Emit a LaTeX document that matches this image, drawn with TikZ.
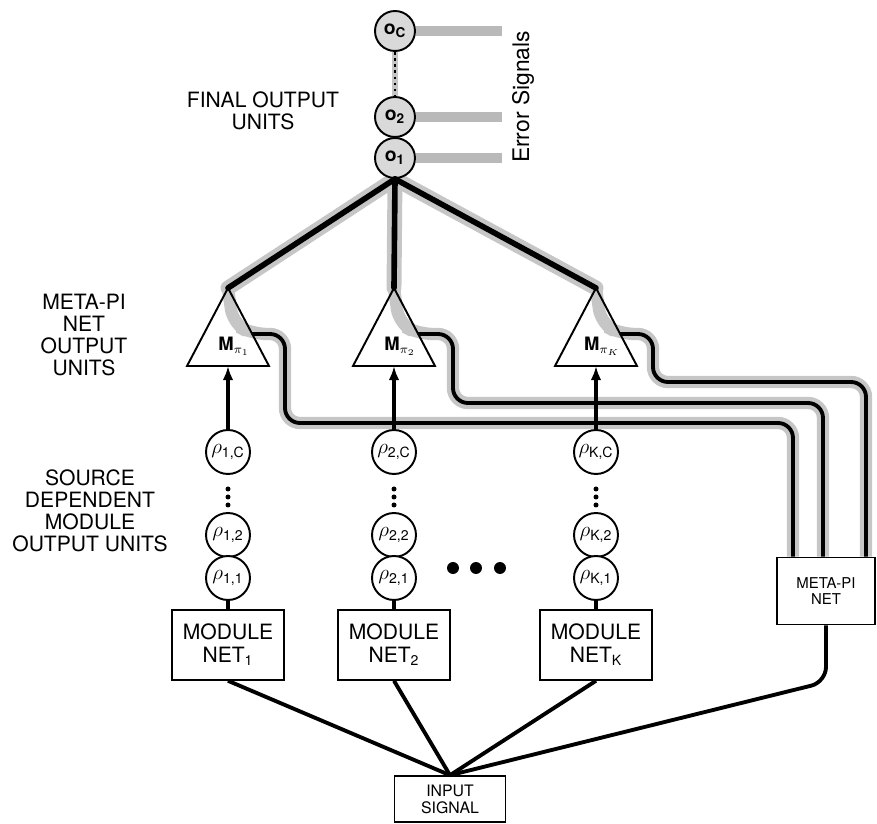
\documentclass[tikz,border=0pt]{standalone}
\usepackage{fontspec}
\setmainfont{TeX Gyre Heros}
\usetikzlibrary{arrows.meta,positioning,backgrounds,calc}

\begin{document}
\begin{tikzpicture}[x=0.02cm, y=-0.02cm,
  unit/.style={circle, draw, line width=1.1pt, fill=white, minimum size=0.88cm,
               inner sep=0pt, font=\fontsize{12}{12}\selectfont},
  outunit/.style={circle, draw, line width=1.1pt, fill=gray!30, minimum size=0.8cm,
                  inner sep=0pt, font=\fontsize{11}{11}\selectfont\bfseries},
  box/.style={rectangle, draw, line width=0.9pt, fill=white, minimum width=2.24cm,
              minimum height=1.4cm, align=center, font=\fontsize{12}{13}\selectfont},
  smallbox/.style={rectangle, draw, line width=0.9pt, fill=white, align=center,
                   inner sep=0pt, font=\fontsize{8.5}{9.5}\selectfont},
  lbl/.style={align=center, font=\fontsize{12}{12.5}\selectfont},
  halo/.style={line width=8.5pt, gray!45, line cap=round, line join=round},
  core/.style={line width=3.2pt, line cap=round},
  fbhalo/.style={line width=7pt, gray!45, rounded corners=0.3cm},
  fbcore/.style={line width=2.2pt, rounded corners=0.3cm},
  errbar/.style={line width=5.7pt, gray!55},
  feed/.style={line width=2.2pt},
  up/.style={-{Latex[length=8pt,width=6pt]}, line width=2.2pt}
]
\useasboundingbox (0,0) rectangle (877,824);

% final output units
\node[outunit] (O1) at (395,158) {o\textsubscript{1}};
\node[outunit] (O2) at (395,117) {o\textsubscript{2}};
\node[outunit] (OC) at (395,31)  {o\textsubscript{C}};
\coordinate (errend) at (502,0);
\node[rotate=90, font=\fontsize{13}{13}\selectfont] (errlbl) at (523,97) {Error Signals};

% meta-pi net and input
\node[smallbox, minimum width=1.96cm, minimum height=1.34cm] (meta) at (826,591) {META-PI\\NET};
\node[smallbox, minimum width=2.22cm, minimum height=0.92cm,
      font=\fontsize{9}{9.7}\selectfont] (input) at (450,799) {INPUT\\SIGNAL};

% one column per module
\foreach \k/\x/\xa/\yl/\xr in {1/228/285/423/793, 2/394/453/403/823, K/596/653/382/866} {
  \coordinate (apex\k) at (\x,288);
  \coordinate (base\k) at (\x,366);
  \coordinate (exit\k) at (\x+24,334);
  \draw[line width=1.1pt] (apex\k) -- (\x+41,366) -- (\x-41,366) -- cycle;
  \node[font=\fontsize{10.5}{10.5}\selectfont\bfseries] (M\k) at (\x+6,346) {M$_{\pi_{\k}}$};
  \node[unit] (rC\k) at (\x,452) {$\rho$\textsubscript{\k,C}};
  \node[unit] (rB\k) at (\x,535) {$\rho$\textsubscript{\k,2}};
  \node[unit] (rA\k) at (\x,578) {$\rho$\textsubscript{\k,1}};
  \node[box] (mod\k) at (\x,645) {MODULE\\NET\textsubscript{\k}};
  \foreach \yd in {489,497,505} \fill (\x,\yd) circle (0.05cm);
  \draw[up] (rC\k) -- (base\k);
  \draw[line width=1.8pt] (rA\k) -- (mod\k);
  \draw[feed] (mod\k.south) -- (input.north);
  \draw[core] (O1.south) -- (apex\k);
  \draw[fbcore] (exit\k) -- (\xa,334) -- (\xa,\yl) -- (\xr,\yl) -- (\xr,0 |- meta.north);
  \begin{scope}[on background layer]
    \draw[halo] (O1.south) -- (apex\k);
    \draw[fbhalo] (apex\k) -- (\x+5,324) -- (exit\k) -- (\xa,334) -- (\xa,\yl)
      -- (\xr,\yl) -- (\xr,0 |- meta.north);
  \end{scope}
}
\draw[feed, rounded corners=0.3cm] (meta.south) -- (meta.south |- 0,682) -- (input.north);

% error signals
\foreach \o in {OC,O2,O1} \draw[errbar] (\o.east) -- (\o.east -| errend);
\begin{scope}[on background layer]
  \draw[line width=3.4pt, gray!45] (OC.south) -- (O2.north);
\end{scope}
\draw[line width=1.7pt, dash pattern=on 1.5pt off 2pt] (OC.south) -- (O2.north);

% more modules
\foreach \dx in {453,476,500} \fill (\dx,568) circle (0.12cm);

% labels
\node[lbl] (finallbl) at (263,111) {FINAL OUTPUT\\UNITS};
\node[lbl] (metalbl) at (84,335) {META-PI\\NET\\OUTPUT\\UNITS};
\node[lbl] (srclbl) at (90,511) {SOURCE\\DEPENDENT\\MODULE\\OUTPUT UNITS};
\end{tikzpicture}
\end{document}
